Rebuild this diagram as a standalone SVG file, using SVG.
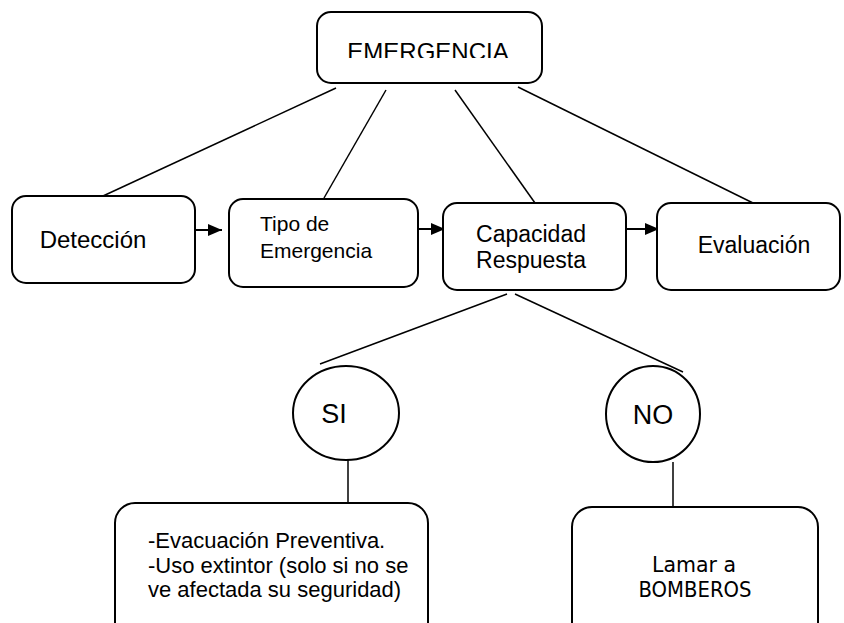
<svg xmlns="http://www.w3.org/2000/svg" width="844" height="623" viewBox="0 0 844 623">
<style>
.box{fill:#fff;stroke:#000;stroke-width:2}
.t{font-family:"Liberation Sans",Arial,sans-serif;fill:#000}
.tv{font-family:"DejaVu Sans Condensed","DejaVu Sans",Tahoma,sans-serif;fill:#000}
.ln{stroke:#000;stroke-width:1.5;fill:none}
.ar{stroke:#000;stroke-width:2;fill:none}
</style>
<defs>
<marker id="ah" markerWidth="14" markerHeight="12" refX="14" refY="6" orient="auto" markerUnits="userSpaceOnUse" viewBox="0 0 14 12">
<path d="M0,0 L14,6 L0,12 z" fill="#000"/>
</marker>
<clipPath id="clipE"><rect x="300" y="0" width="260" height="58"/></clipPath>
</defs>
<g id="connectors">
<line class="ln" x1="336" y1="88" x2="103" y2="196"/>
<line class="ln" x1="386" y1="90" x2="324" y2="198"/>
<line class="ln" x1="455" y1="90" x2="535" y2="203"/>
<line class="ln" x1="518" y1="87" x2="753" y2="203"/>
<line class="ar" x1="188" y1="230" x2="222" y2="230" marker-end="url(#ah)"/>
<line class="ar" x1="412" y1="229" x2="445" y2="229" marker-end="url(#ah)"/>
<line class="ar" x1="627" y1="229" x2="659" y2="229" marker-end="url(#ah)"/>
<line class="ln" x1="507" y1="294" x2="320" y2="364"/>
<line class="ln" x1="515" y1="294" x2="683" y2="372"/>
<line class="ln" x1="348" y1="460" x2="348" y2="503"/>
<line class="ln" x1="673" y1="462" x2="673" y2="507"/>
</g>
<g id="emergencia">
<rect class="box" x="317" y="12" width="225" height="71" rx="14"/>
<text class="t" x="428" y="60" font-size="24" text-anchor="middle" clip-path="url(#clipE)">EMERGENCIA</text>
</g>
<g id="deteccion">
<rect class="box" x="12" y="196" width="183" height="87" rx="14"/>
<text class="t" x="93" y="248" font-size="24" text-anchor="middle">Detección</text>
</g>
<g id="tipo">
<rect class="box" x="229" y="199" width="189" height="88" rx="14"/>
<text class="t" x="260" y="231" font-size="21">Tipo de</text>
<text class="t" x="260" y="258" font-size="21">Emergencia</text>
</g>
<g id="capacidad">
<rect class="box" x="443" y="203" width="183" height="87" rx="14"/>
<text class="t" x="531" y="242" font-size="23" text-anchor="middle">Capacidad</text>
<text class="t" x="531" y="268" font-size="23" text-anchor="middle">Respuesta</text>
</g>
<g id="evaluacion">
<rect class="box" x="657" y="203" width="183" height="87" rx="14"/>
<text class="t" x="754" y="253" font-size="23" text-anchor="middle">Evaluación</text>
</g>
<g id="si">
<ellipse class="box" cx="346" cy="413" rx="53" ry="47"/>
<text class="t" x="334" y="423" font-size="27" text-anchor="middle">SI</text>
</g>
<g id="no">
<ellipse class="box" cx="653" cy="414" rx="47" ry="48"/>
<text class="t" x="653" y="424" font-size="27" text-anchor="middle">NO</text>
</g>
<g id="si-accion">
<rect class="box" x="115" y="503" width="313" height="140" rx="20"/>
<text class="t" x="148" y="548" font-size="22">-Evacuación Preventiva.</text>
<text class="t" x="148" y="573" font-size="22">-Uso extintor (solo si no se</text>
<text class="t" x="148" y="597" font-size="22">ve afectada su seguridad)</text>
</g>
<g id="no-accion">
<rect class="box" x="572" y="507" width="246" height="140" rx="20"/>
<text class="tv" x="694" y="572" font-size="21" text-anchor="middle" textLength="84" lengthAdjust="spacingAndGlyphs">Lamar a</text>
<text class="tv" x="695" y="597" font-size="21" text-anchor="middle" textLength="113" lengthAdjust="spacingAndGlyphs">BOMBEROS</text>
</g>
</svg>
